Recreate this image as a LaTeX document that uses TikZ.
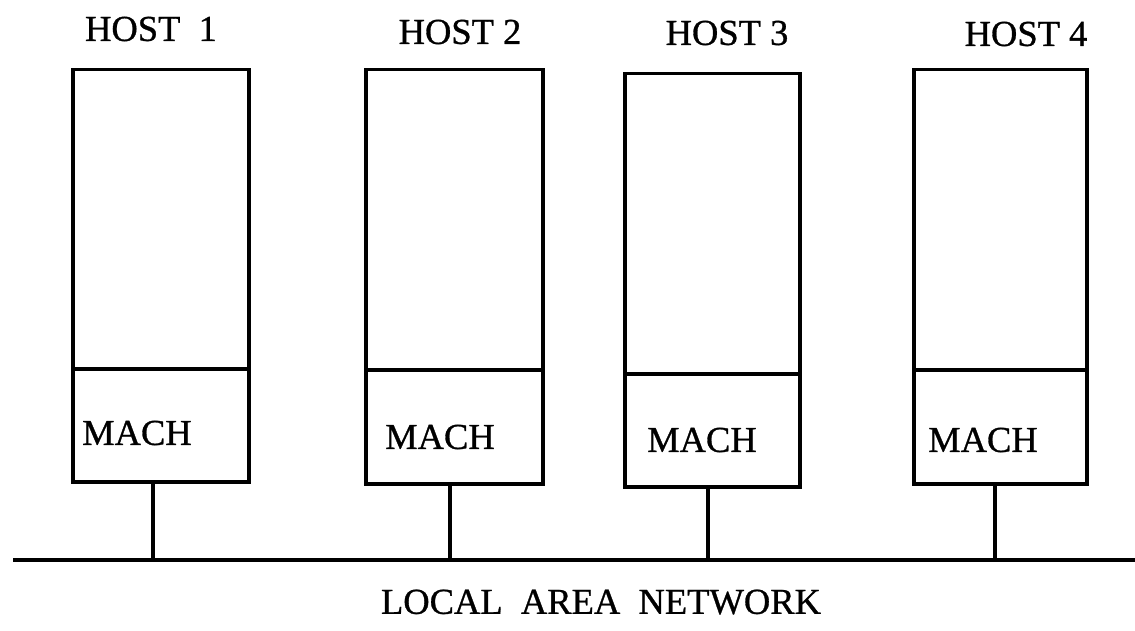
\documentclass[tikz,border=0pt]{standalone}
\usepackage{fontspec}
\setmainfont{Liberation Serif}
\newfontfamily\lblfont[FakeBold=0.8]{Liberation Serif}
\begin{document}
\begin{tikzpicture}[x=1pt,y=-1pt,
  part/.style={draw,line width=3.5pt,inner sep=0pt,anchor=north west},
  lbl/.style={font=\lblfont\fontsize{36.5}{40}\selectfont,inner sep=0pt},
  wire/.style={line width=3.5pt}]
\useasboundingbox (0,0) rectangle (1135,631);
% host 1
\node[part,minimum width=176pt,minimum height=299pt] (top1) at (71,68) {};
\node[part,minimum width=176pt,minimum height=113pt] (mach1) at (71,367) {};
\node[lbl,anchor=west] (m1) at (82,433) {MACH};
\node[lbl] (h1) at (151,29) {HOST\ \ 1};
% host 2
\node[part,minimum width=177pt,minimum height=300pt] (top2) at (364,68) {};
\node[part,minimum width=177pt,minimum height=114pt] (mach2) at (364,368) {};
\node[lbl,anchor=west] (m2) at (385,437) {MACH};
\node[lbl] (h2) at (460,32) {HOST 2};
% host 3
\node[part,minimum width=175pt,minimum height=300pt] (top3) at (623,72) {};
\node[part,minimum width=175pt,minimum height=113pt] (mach3) at (623,372) {};
\node[lbl,anchor=west] (m3) at (647,440) {MACH};
\node[lbl] (h3) at (727,33) {HOST 3};
% host 4
\node[part,minimum width=173pt,minimum height=300pt] (top4) at (912,68) {};
\node[part,minimum width=173pt,minimum height=114pt] (mach4) at (912,368) {};
\node[lbl,anchor=west] (m4) at (928,440) {MACH};
\node[lbl] (h4) at (1026,34) {HOST 4};
% network
\coordinate (lanL) at (13,560);
\coordinate (lanR) at (1135,560);
\draw[wire] (lanL) -- (lanR);
\coordinate (lan1) at (153,560);
\coordinate (lan2) at (450,560);
\coordinate (lan3) at (708,560);
\coordinate (lan4) at (995,560);
\draw[wire] (lan1) -- (lan1 |- mach1.south);
\draw[wire] (lan2) -- (lan2 |- mach2.south);
\draw[wire] (lan3) -- (lan3 |- mach3.south);
\draw[wire] (lan4) -- (lan4 |- mach4.south);
\node[lbl] (lan) at (601,602) {LOCAL\ \ AREA\ \ NETWORK};
\end{tikzpicture}
\end{document}
